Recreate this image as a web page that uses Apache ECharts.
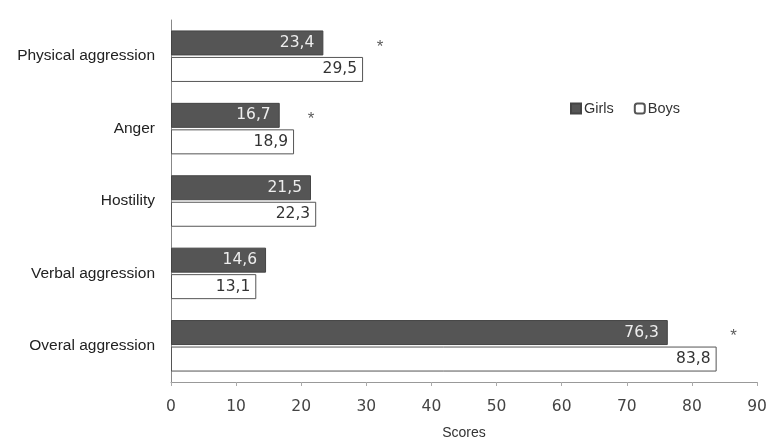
<!DOCTYPE html>
<html><head><meta charset="utf-8">
<script src="https://cdn.jsdelivr.net/npm/echarts@6/dist/echarts.min.js"></script>
<style>html,body{margin:0;padding:0;background:#fff}#c{width:768px;height:439px}</style>
</head><body><div id="c"></div>
<script>
var categories = ['Physical aggression', 'Anger', 'Hostility', 'Verbal aggression', 'Overal aggression'];
var girls = [23.4, 16.7, 21.5, 14.6, 76.3];
var boys = [29.5, 18.9, 22.3, 13.1, 83.8];
var significant = [true, true, false, false, true];
var xTicks = [0, 10, 20, 30, 40, 50, 60, 70, 80, 90];

var fmt = function (p) { return String(p.value).replace('.', ','); };
var starData = [];
categories.forEach(function (c, i) {
  if (significant[i]) starData.push([Math.max(girls[i], boys[i]) + 2.6, c]);
});

var chart = echarts.init(document.getElementById('c'));
chart.setOption({
  animation: false,
  backgroundColor: '#fff',
  grid: { left: 171, right: 11, top: 20, bottom: 57, containLabel: false, outerBoundsMode: 'none' },
  legend: {
    data: [{ name: 'Girls', icon: 'rect' }, { name: 'Boys', icon: 'roundRect' }],
    left: 565, top: 96, itemWidth: 10, itemHeight: 10, itemGap: 20,
    textStyle: { fontFamily: 'Arial, Liberation Sans', fontSize: 14.5, color: '#333', padding: [0, 0, 0, -2] }
  },
  xAxis: {
    type: 'value', min: xTicks[0], max: xTicks[xTicks.length - 1], interval: 10,
    name: 'Scores', nameLocation: 'middle', nameGap: 44,
    nameTextStyle: { fontFamily: 'Arial, Liberation Sans', fontSize: 14, color: '#333' },
    axisLine: { show: true, lineStyle: { color: '#999', width: 1 } },
    axisTick: { show: true, length: 4, inside: false, lineStyle: { color: '#aaa' } },
    axisLabel: { fontFamily: 'Verdana, DejaVu Sans', fontSize: 15.5, color: '#444', margin: 17 },
    splitLine: { show: false }
  },
  yAxis: {
    type: 'category', data: categories, inverse: true,
    axisLine: { show: true, lineStyle: { color: '#888' } },
    axisTick: { show: false },
    axisLabel: { fontFamily: 'Arial, Liberation Sans', fontSize: 15.5, color: '#222', margin: 16 }
  },
  series: [
    {
      name: 'Girls', type: 'bar', data: girls, barWidth: 25, barGap: '6%',
      itemStyle: { color: '#555', borderColor: '#444', borderWidth: 1 },
      label: { show: true, position: 'insideRight', formatter: fmt, distance: 9,
        fontFamily: 'Verdana, DejaVu Sans', fontSize: 15.5, color: '#eee' }
    },
    {
      name: 'Boys', type: 'bar', data: boys, barWidth: 25,
      itemStyle: { color: '#fff', borderColor: '#555', borderWidth: 1 },
      label: { show: true, position: 'insideRight', formatter: fmt, distance: 6,
        fontFamily: 'Verdana, DejaVu Sans', fontSize: 15.5, color: '#333' }
    },
    {
      name: 'sig', type: 'scatter', data: starData, symbolSize: 0, silent: true,
      label: { show: true, formatter: '*', position: 'inside', offset: [0, -9],
        fontFamily: 'Arial', fontSize: 17, color: '#333' }
    }
  ]
});
</script></body></html>
